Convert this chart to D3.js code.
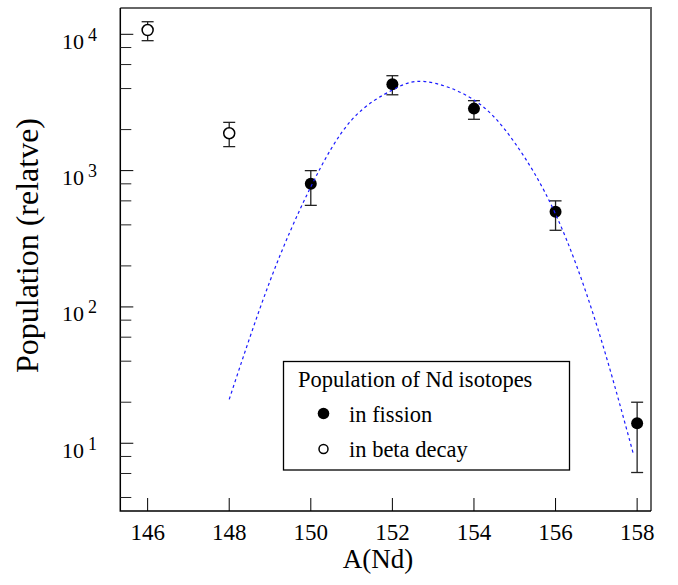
<!DOCTYPE html>
<html>
<head>
<meta charset="utf-8">
<script src="https://cdn.jsdelivr.net/npm/d3@7"></script>
<style>
  body { margin: 0; background: #fff; }
  text { font-family: "Liberation Serif", "DejaVu Serif", serif; fill: #000; }
</style>
</head>
<body>
<div id="chart"></div>
<script>
// measured points, fission (filled) and beta decay (open)
var fissionA  = [150, 152, 154, 156, 158];
var fissionY  = [800, 4300, 2850, 500, 14];
var fissionLo = [556, 3600, 2380, 365, 6.1];
var fissionHi = [1000, 4970, 3260, 600, 20];

var betaA  = [146, 148];
var betaY  = [10750, 1880];
var betaLo = [8980, 1500];
var betaHi = [12370, 2260];

// dashed fit curve
var fitA = [148, 149, 150, 151, 152, 152.8, 154, 155, 156, 157, 157.9];
var fitY = [21, 155, 760, 2350, 3900, 4500, 3300, 1600, 480, 75, 8.5];

var xTicks = [146, 148, 150, 152, 154, 156, 158];
var yMajor = [1, 2, 3, 4];   // exponents
var yMinor = [4, 6, 8, 20, 40, 60, 80, 200, 400, 600, 800, 2000, 4000, 6000, 8000];

var W = 678, H = 585;
var MARGIN = {LEFT: 120.3, RIGHT: 27, TOP: 8, BOTTOM: 74};

var svg = d3.select("#chart").append("svg")
    .attr("width", W)
    .attr("height", H);

var x = d3.scaleLinear()
    .domain([145.33, 158.34])
    .range([MARGIN.LEFT, W - MARGIN.RIGHT]);

var y = d3.scaleLog()
    .domain([Math.pow(10, 0.503), Math.pow(10, 4.193)])
    .range([H - MARGIN.BOTTOM, MARGIN.TOP]);

var x0 = MARGIN.LEFT, x1 = W - MARGIN.RIGHT, y0 = H - MARGIN.BOTTOM, y1 = MARGIN.TOP;

// frame: top/right in grey, axes in black
svg.append("path")
    .attr("d", "M" + x0 + "," + y1 + "H" + x1 + "V" + y0)
    .attr("fill", "none")
    .attr("stroke", "#666")
    .attr("stroke-width", 2);
svg.append("path")
    .attr("d", "M" + x0 + "," + y1 + "V" + y0 + "H" + x1)
    .attr("fill", "none")
    .attr("stroke", "#000")
    .attr("stroke-width", 1.5);

// x ticks (pointing up)
svg.append("g").selectAll("line")
    .data(xTicks).enter().append("line")
    .attr("x1", function(d) { return x(d); })
    .attr("x2", function(d) { return x(d); })
    .attr("y1", y0)
    .attr("y2", y0 - 13)
    .attr("stroke", "#000")
    .attr("stroke-width", 1);

svg.append("g").selectAll("text")
    .data(xTicks).enter().append("text")
    .attr("x", function(d) { return x(d); })
    .attr("y", 540)
    .attr("text-anchor", "middle")
    .style("font-size", "23px")
    .text(function(d) { return d; });

// y ticks
svg.append("g").selectAll("line")
    .data(yMajor).enter().append("line")
    .attr("x1", x0)
    .attr("x2", x0 + 13)
    .attr("y1", function(d) { return y(Math.pow(10, d)); })
    .attr("y2", function(d) { return y(Math.pow(10, d)); })
    .attr("stroke", "#000")
    .attr("stroke-width", 1);

svg.append("g").selectAll("line")
    .data(yMinor).enter().append("line")
    .attr("x1", x0)
    .attr("x2", x0 + 11)
    .attr("y1", function(d) { return y(d); })
    .attr("y2", function(d) { return y(d); })
    .attr("stroke", "#222")
    .attr("stroke-width", 1);

var ylab = svg.append("g").selectAll("g")
    .data(yMajor).enter().append("g");
ylab.append("text")
    .attr("x", 84)
    .attr("y", function(d) { return y(Math.pow(10, d)) + 14.5; })
    .attr("text-anchor", "end")
    .style("font-size", "22px")
    .text("10");
ylab.append("text")
    .attr("x", 88)
    .attr("y", function(d) { return y(Math.pow(10, d)) + 6.3; })
    .style("font-size", "18px")
    .text(function(d) { return d; });

// axis titles
svg.append("text")
    .attr("x", 378)
    .attr("y", 568)
    .attr("text-anchor", "middle")
    .style("font-size", "27px")
    .text("A(Nd)");

svg.append("text")
    .attr("transform", "translate(38,245.5) rotate(-90)")
    .attr("text-anchor", "middle")
    .style("font-size", "32px")
    .text("Population (relatve)");

// error bars
function errorBars(A, Lo, Hi) {
    var g = svg.append("g").attr("stroke", "#222").attr("stroke-width", 1.3);
    var idx = d3.range(A.length);
    g.selectAll(".v").data(idx).enter().append("line")
        .attr("x1", function(i) { return x(A[i]); })
        .attr("x2", function(i) { return x(A[i]); })
        .attr("y1", function(i) { return y(Lo[i]); })
        .attr("y2", function(i) { return y(Hi[i]); });
    g.selectAll(".lo").data(idx).enter().append("line")
        .attr("x1", function(i) { return x(A[i]) - 6; })
        .attr("x2", function(i) { return x(A[i]) + 6; })
        .attr("y1", function(i) { return y(Lo[i]); })
        .attr("y2", function(i) { return y(Lo[i]); });
    g.selectAll(".hi").data(idx).enter().append("line")
        .attr("x1", function(i) { return x(A[i]) - 6; })
        .attr("x2", function(i) { return x(A[i]) + 6; })
        .attr("y1", function(i) { return y(Hi[i]); })
        .attr("y2", function(i) { return y(Hi[i]); });
}
errorBars(fissionA, fissionLo, fissionHi);
errorBars(betaA, betaLo, betaHi);

// markers
svg.append("g").selectAll("circle")
    .data(d3.range(fissionA.length)).enter().append("circle")
    .attr("cx", function(i) { return x(fissionA[i]); })
    .attr("cy", function(i) { return y(fissionY[i]); })
    .attr("r", 6)
    .attr("fill", "#000");

svg.append("g").selectAll("circle")
    .data(d3.range(betaA.length)).enter().append("circle")
    .attr("cx", function(i) { return x(betaA[i]); })
    .attr("cy", function(i) { return y(betaY[i]); })
    .attr("r", 5.5)
    .attr("fill", "#fff")
    .attr("stroke", "#000")
    .attr("stroke-width", 1.5);

// fit curve drawn on top
var line = d3.line()
    .x(function(i) { return x(fitA[i]); })
    .y(function(i) { return y(fitY[i]); })
    .curve(d3.curveNatural);

svg.append("path")
    .datum(d3.range(fitA.length))
    .attr("d", line)
    .attr("fill", "none")
    .attr("stroke", "#1a1aff")
    .attr("stroke-width", 1.2)
    .attr("stroke-dasharray", "3,3");

// legend
var lg = svg.append("g");
lg.append("rect")
    .attr("x", 283.5).attr("y", 361.5)
    .attr("width", 286).attr("height", 108.5)
    .attr("fill", "#fff")
    .attr("stroke", "#000")
    .attr("stroke-width", 1.3);
lg.append("text")
    .attr("x", 298).attr("y", 387)
    .style("font-size", "22.5px")
    .text("Population of Nd isotopes");
lg.append("circle")
    .attr("cx", 323.5).attr("cy", 413.5).attr("r", 5.8)
    .attr("fill", "#000");
lg.append("text")
    .attr("x", 349).attr("y", 421.5)
    .style("font-size", "22.5px")
    .text("in fission");
lg.append("circle")
    .attr("cx", 323.5).attr("cy", 449).attr("r", 4.5)
    .attr("fill", "#fff").attr("stroke", "#000").attr("stroke-width", 1.5);
lg.append("text")
    .attr("x", 349).attr("y", 457)
    .style("font-size", "22.5px")
    .text("in beta decay");
</script>
</body>
</html>
